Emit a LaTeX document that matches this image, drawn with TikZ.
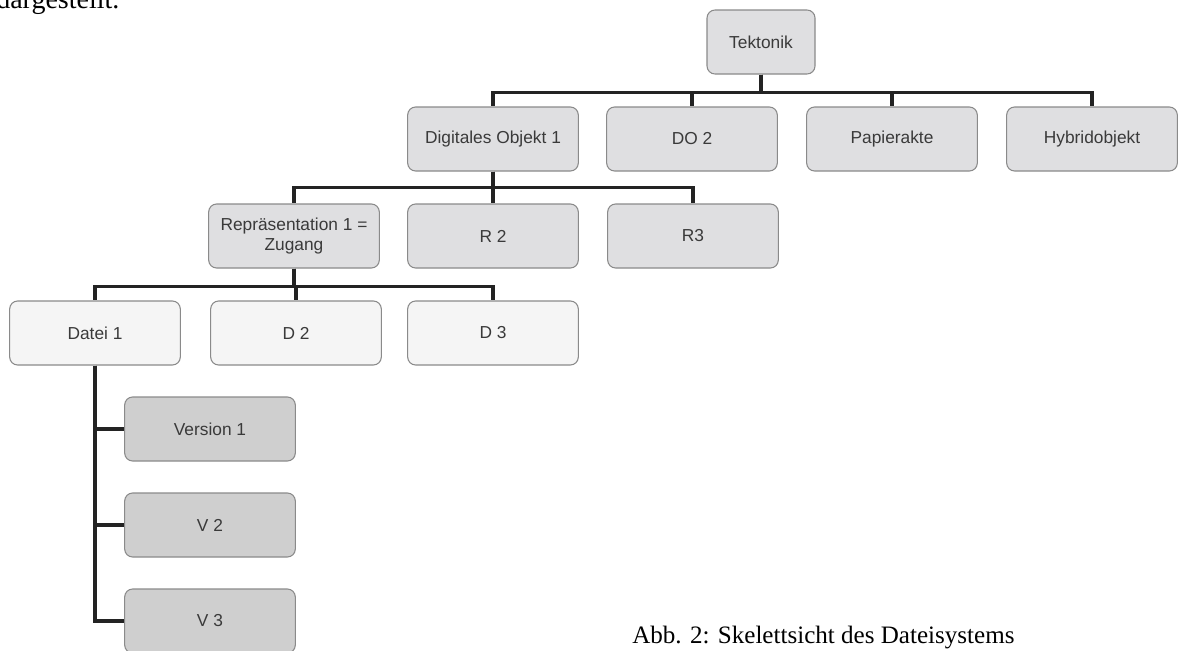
\documentclass[tikz,border=0pt]{standalone}
\usepackage{fontspec}
\setmainfont{Liberation Serif}
\setsansfont{Liberation Sans}
\usepackage{xcolor}
\definecolor{boxgray}{HTML}{DFDFE1}
\definecolor{filewhite}{HTML}{F5F5F5}
\definecolor{versgray}{HTML}{CFCFCF}
\definecolor{rimgray}{HTML}{8A8A8A}
\definecolor{inkgray}{HTML}{3A3A3A}
\definecolor{linegray}{HTML}{232323}

\begin{document}
\begin{tikzpicture}[x=0.75pt, y=-0.75pt,
  box/.style={rectangle, draw=rimgray, line width=0.8pt, rounded corners=6pt, minimum height=48pt, minimum width=128pt, inner sep=2pt, font=\sffamily\fontsize{13}{15}\selectfont, text=inkgray, fill=boxgray, align=center},
  filebox/.style={box, fill=filewhite},
  versbox/.style={box, fill=versgray},
  link/.style={draw=linegray, line width=2.3pt}
]
\useasboundingbox (0,0) rectangle (1178,650);

\node[anchor=base west, inner sep=0pt, font=\fontsize{21}{23}\selectfont] (prev) at (-4,8) {dargestellt.};

\node[box, minimum width=81pt] (tek) at (761,42) {Tektonik};
\node[box] (do1) at (493,139) {Digitales Objekt 1};
\node[box] (do2) at (692,139) {DO 2};
\node[box] (pap) at (892,139) {Papierakte};
\node[box] (hyb) at (1092,139) {Hybridobjekt};
\node[box] (rep1) at (294,236) {Repräsentation 1 =\\Zugang};
\node[box] (rep2) at (493,236) {R 2};
\node[box] (rep3) at (693,236) {R3};
\node[filebox] (dat1) at (95,333) {Datei 1};
\node[filebox] (dat2) at (296,333) {D 2};
\node[filebox] (dat3) at (493,333) {D 3};
\node[versbox] (ver1) at (210,429) {Version 1};
\node[versbox] (ver2) at (210,525) {V 2};
\node[versbox] (ver3) at (210,621) {V 3};

\node[anchor=base west, inner sep=0pt, font=\fontsize{18.8}{20}\selectfont] (cap) at (632,643) {Abb. 2: Skelettsicht des Dateisystems};

% tree connectors
\foreach \kid in {do1,do2,pap,hyb}
  \draw[link] (tek.south) -- ++(0,18) -| (\kid.north);
\foreach \kid in {rep1,rep2,rep3}
  \draw[link] (do1.south) -- ++(0,16) -| (\kid.north);
\foreach \kid in {dat1,dat2,dat3}
  \draw[link] (rep1.south) -- ++(0,18) -| (\kid.north);
\foreach \kid in {ver1,ver2,ver3}
  \draw[link] (dat1.south) |- (\kid.west);
\end{tikzpicture}
\end{document}
